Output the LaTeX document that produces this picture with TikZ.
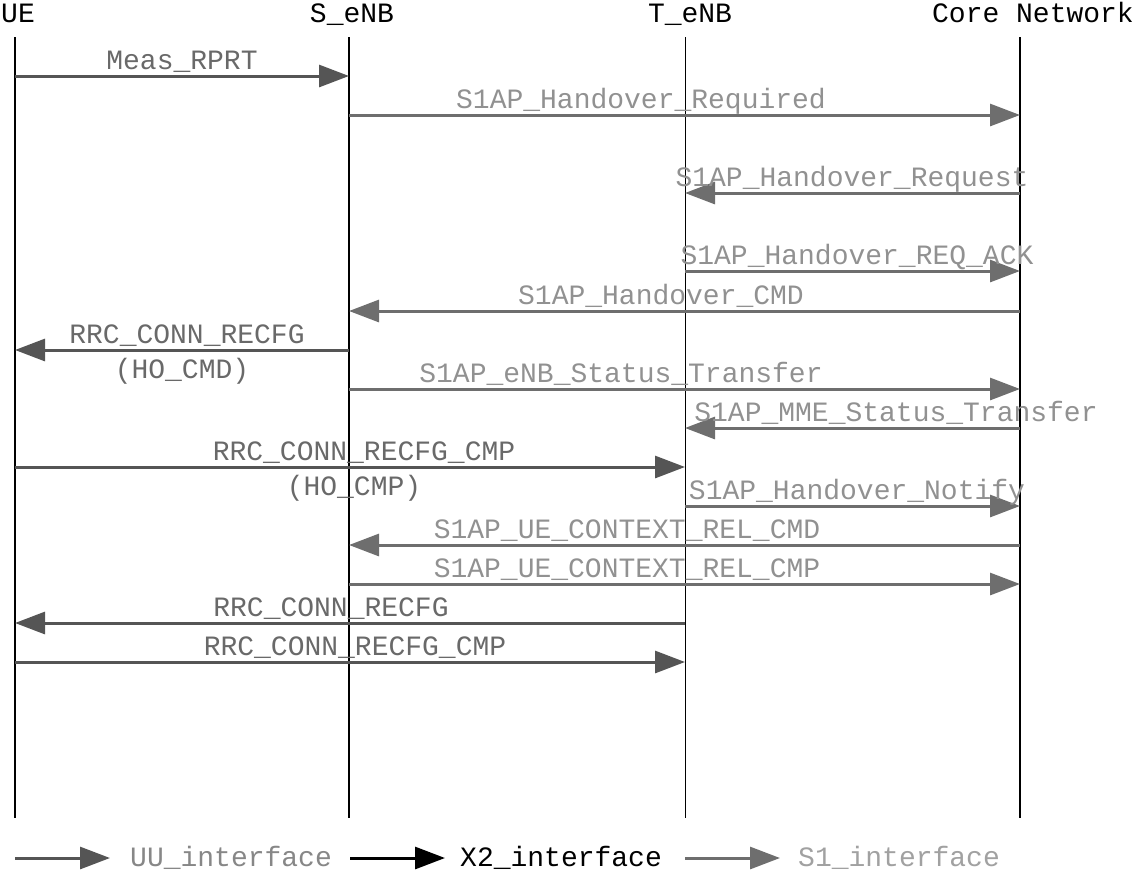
\documentclass[tikz,border=0pt]{standalone}
\usepackage{fontspec}
\setmonofont{Liberation Mono}
\usetikzlibrary{arrows.meta}
\definecolor{uugray}{RGB}{85,85,85}
\definecolor{uutext}{RGB}{105,105,105}
\definecolor{sgray}{RGB}{110,110,110}
\definecolor{stext}{RGB}{145,145,145}

\begin{document}
\begin{tikzpicture}[x=1pt, y=-1pt,
  every node/.style={font=\ttfamily\fontsize{28}{30}\selectfont, inner sep=0pt},
  uu/.style={draw=uugray, line width=3pt, -{Triangle[length=30pt,width=22pt]}},
  s1/.style={draw=sgray, line width=3pt, -{Triangle[length=30pt,width=22pt]}},
  x2/.style={draw=black, line width=3pt, -{Triangle[length=30pt,width=22pt]}},
  uulbl/.style={anchor=base, text=uutext},
  s1lbl/.style={anchor=base, text=stext}]
  \useasboundingbox (0,0) rectangle (1135,871);
  % lifelines
  \node[anchor=base west] (ue) at (1,22) {UE};
  \node[anchor=base] (senb) at (352,22)  {S\_eNB};
  \node[anchor=base] (tenb) at (690,22)  {T\_eNB};
  \node[anchor=base east] (core) at (1134,22) {Core Network};
  \coordinate (uetop) at (15,37);    \coordinate (uebot) at (15,818);
  \coordinate (stop) at (349,37);    \coordinate (sbot) at (349,818);
  \coordinate (ttop) at (685,37);    \coordinate (tbot) at (685,818);
  \coordinate (ctop) at (1020,37);   \coordinate (cbot) at (1020,818);
  \draw[line width=1.6pt] (uetop) -- (uebot);
  \draw[line width=1.2pt] (stop) -- (sbot);
  \draw[line width=1pt] (ttop) -- (tbot);
  \draw[line width=1.6pt] (ctop) -- (cbot);
  % message rows
  \foreach \n/\y in {m1/76, m2/115, m3/193, m4/271, m5/311, m6/350, m7/389,
                     m8/428, m9/467, m10/506, m11/545, m12/584, m13/623, m14/662}
    \coordinate (\n) at (0,\y);
  % messages
  \draw[uu] (uetop |- m1) -- (stop |- m1);
  \node[uulbl] (meas) at (182,69) {Meas\_RPRT};
  \draw[s1] (stop |- m2) -- (ctop |- m2);
  \node[s1lbl] (horeq) at (641,108) {S1AP\_Handover\_Required};
  \draw[s1] (ctop |- m3) -- (ttop |- m3);
  \node[s1lbl] (horeqst) at (852,186) {S1AP\_Handover\_Request};
  \draw[s1] (ttop |- m4) -- (ctop |- m4);
  \node[s1lbl] (hoack) at (857,264) {S1AP\_Handover\_REQ\_ACK};
  \draw[s1] (ctop |- m5) -- (stop |- m5);
  \node[s1lbl] (hocmd) at (661,304) {S1AP\_Handover\_CMD};
  \draw[uu] (stop |- m6) -- (uetop |- m6);
  \node[uulbl] (recfg) at (187,343) {RRC\_CONN\_RECFG};
  \node[uulbl] (hocmdb) at (182,378) {(HO\_CMD)};
  \draw[s1] (stop |- m7) -- (ctop |- m7);
  \node[s1lbl] (enbst) at (621,382) {S1AP\_eNB\_Status\_Transfer};
  \draw[s1] (ctop |- m8) -- (ttop |- m8);
  \node[s1lbl] (mmest) at (896,421) {S1AP\_MME\_Status\_Transfer};
  \draw[uu] (uetop |- m9) -- (ttop |- m9);
  \node[uulbl] (recfgcmp) at (364,460) {RRC\_CONN\_RECFG\_CMP};
  \node[uulbl] (hocmp) at (354,495) {(HO\_CMP)};
  \draw[s1] (ttop |- m10) -- (ctop |- m10);
  \node[s1lbl] (notify) at (857,499) {S1AP\_Handover\_Notify};
  \draw[s1] (ctop |- m11) -- (stop |- m11);
  \node[s1lbl] (relcmd) at (627,538) {S1AP\_UE\_CONTEXT\_REL\_CMD};
  \draw[s1] (stop |- m12) -- (ctop |- m12);
  \node[s1lbl] (relcmp) at (627,577) {S1AP\_UE\_CONTEXT\_REL\_CMP};
  \draw[uu] (ttop |- m13) -- (uetop |- m13);
  \node[uulbl] (recfg2) at (331,616) {RRC\_CONN\_RECFG};
  \draw[uu] (uetop |- m14) -- (ttop |- m14);
  \node[uulbl] (recfgcmp2) at (355,655) {RRC\_CONN\_RECFG\_CMP};
  % legend
  \coordinate (luu) at (15,858);  \coordinate (luue) at (110,858);
  \coordinate (lx2) at (350,858); \coordinate (lx2e) at (445,858);
  \coordinate (ls1) at (685,858); \coordinate (ls1e) at (780,858);
  \draw[uu] (luu) -- (luue);
  \node[anchor=base west, text=uutext!80!white] (uukey) at (130,866) {UU\_interface};
  \draw[x2] (lx2) -- (lx2e);
  \node[anchor=base west] (x2key) at (460,866) {X2\_interface};
  \draw[s1] (ls1) -- (ls1e);
  \node[anchor=base west, text=stext!85!white] (s1key) at (798,866) {S1\_interface};
\end{tikzpicture}
\end{document}
